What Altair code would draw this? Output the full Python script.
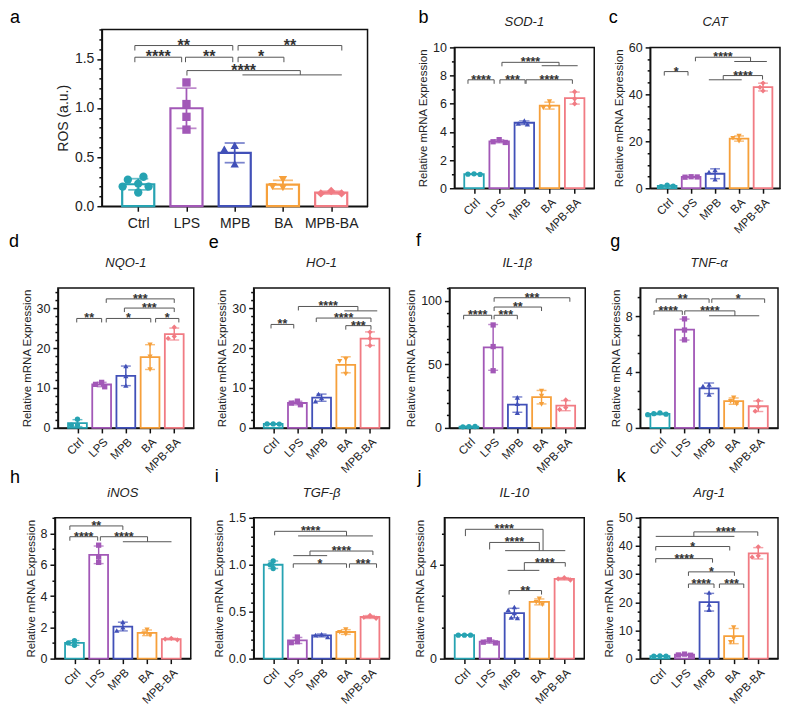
import json
import altair as alt
import pandas as pd

FONT = "Liberation Sans"
GROUPS = ["Ctrl", "LPS", "MPB", "BA", "MPB-BA"]
COLORS = ["#26A3B2", "#A258B7", "#4150B8", "#F6A03B", "#F17B83"]
SHAPES = ["circle", "square", "triangle-up", "triangle-down", "diamond"]

# ---------------- replicate values ----------------
ros_vals = [[0.23, 0.27, 0.30, 0.20, 0.20, 0.14], [1.26, 1.04, 0.91, 0.78],
            [0.62, 0.58, 0.43], [0.27, 0.19, 0.20], [0.155, 0.13, 0.13]]
sod_vals = [[1.02, 1.0, 0.98], [3.45, 3.3, 3.25], [4.8, 4.6, 4.55],
            [5.75, 6.15, 5.7], [6.85, 6.35, 6.0]]
cat_vals = [[1.3, 0.7, 0.9], [4.9, 4.7, 4.8], [7.8, 6.9, 3.8],
            [22.2, 21.3, 20.0], [44.8, 43.0, 41.5]]
nqo_vals = [[2.2, 0.7, 0.7], [11.4, 10.9, 10.3], [15.5, 13.0, 10.6],
            [20.8, 17.8, 14.6], [25.2, 22.9, 22.4]]
ho_vals = [[1.0, 1.0, 0.95], [6.7, 6.2, 5.8], [7.5, 8.5, 6.7],
           [17.2, 16.7, 13.5], [24.0, 22.4, 20.6]]
il1_vals = [[1.0, 0.9, 1.1], [81, 64, 45], [24, 19, 12],
            [29, 25, 18.5], [22, 16, 14.5]]
tnf_vals = [[1.08, 1.02, 0.98, 0.95], [7.8, 7.0, 6.3], [3.1, 3.0, 2.4],
            [2.15, 1.9, 1.7], [1.95, 1.5, 1.2]]
inos_vals = [[1.15, 1.0, 0.85], [7.25, 6.5, 6.15], [2.35, 2.0, 1.8],
             [1.85, 1.6, 1.5], [1.3, 1.25, 1.2]]
tgf_vals = [[1.04, 1.0, 0.96], [0.23, 0.18, 0.17], [0.26, 0.25, 0.23],
            [0.31, 0.28, 0.26], [0.46, 0.44, 0.43]]
il10_vals = [[1.0, 1.0, 1.0], [0.8, 0.7, 0.67], [2.2, 2.08, 1.94, 1.75, 1.73],
             [2.55, 2.4, 2.3], [3.45, 3.4, 3.35]]
arg_vals = [[1.0, 0.9, 0.85], [1.6, 1.3, 1.2], [23.5, 19.2, 17.4],
            [11.0, 7.2, 5.8], [39.7, 36.5, 36.0]]

# ---------------- significance brackets ----------------
# (from group idx, to group idx, height, label[, left end, right end])
ros_br = [(-0.07, 1.96, 1.636, "**"), (-0.07, 0.90, 1.517, "****"), (0.98, 1.96, 1.517, "**"),
          (2.07, 4.22, 1.636, "**"), (2.07, 3.02, 1.517, "*"), (1.01, 3.36, 1.381, "****", None, 1.337)]
ros_grp = [(2.16, 4.22, 1.337)]
sod_br = [(-0.24, 0.80, 7.7, "****"), (1.03, 2.03, 7.7, "***"), (2.07, 3.91, 7.7, "****"),
          (1.11, 3.38, 8.94, "****", None, 8.70)]
sod_grp = [(2.69, 4.12, 8.70)]
cat_br = [(-0.12, 0.87, 49.7, "*"), (1.18, 3.48, 55.8, "****", None, 54.0),
          (2.34, 3.98, 48.0, "****", 46.2, None)]
cat_grp = [(2.80, 4.16, 54.0), (1.74, 3.11, 46.2)]
nqo_br = [(-0.03, 1.0, 27.4, "**"), (1.19, 3.03, 27.4, "*"), (3.23, 4.19, 27.4, "*"),
          (1.94, 4.0, 30.0, "***"), (1.19, 4.0, 32.3, "***")]
nqo_grp = []
ho_br = [(-0.09, 0.85, 25.9, "**"), (1.04, 3.5, 30.4, "****", None, 29.3),
         (1.78, 4.04, 27.5, "****"), (3.0, 4.04, 25.6, "***")]
ho_grp = [(2.94, 4.3, 29.3)]
il1_br = [(-0.22, 0.94, 88.6, "****"), (1.04, 2.0, 88.6, "***"), (1.04, 3.0, 95.1, "**"),
          (1.04, 4.17, 102.4, "***")]
il1_grp = []
tnf_br = [(-0.15, 2.0, 9.23, "**"), (2.11, 4.26, 9.23, "*"), (-0.24, 0.91, 8.37, "****"),
          (1.01, 3.05, 8.37, "****", None, 8.02)]
tnf_grp = [(2.0, 4.04, 8.02)]
inos_br = [(-0.19, 2.0, 8.48, "**"), (-0.19, 0.96, 7.79, "****"),
           (1.07, 3.02, 7.79, "****", None, 7.47)]
inos_grp = [(2.0, 4.01, 7.47)]
tgf_br = [(0.06, 3.03, 1.356, "****", None, 1.307), (1.52, 4.12, 1.146, "****", 1.097, None),
          (0.83, 3.03, 1.01, "*"), (3.15, 4.27, 1.01, "***")]
tgf_grp = [(1.03, 4.12, 1.307), (0.83, 2.23, 1.097)]
il10_br = [(0.04, 3.15, 5.51, "****", 5.22, 4.6), (1.01, 3.0, 4.95, "****", 4.65, 4.6),
           (2.4, 4.04, 4.09, "****", 3.76, None), (1.79, 3.09, 2.9, "**")]
il10_grp = [(1.63, 4.04, 4.6), (1.73, 3.0, 3.76)]
arg_br = [(1.38, 3.98, 45.0, "****", 43.4, None), (-0.17, 2.84, 39.8, "*"),
          (-0.17, 2.14, 35.5, "****"), (1.16, 3.03, 30.8, "*"),
          (1.16, 2.2, 26.5, "****"), (2.42, 3.41, 26.5, "***")]
arg_grp = [(-0.17, 3.03, 43.4)]

# ---------------- panels: content ----------------
PANELS = [
    dict(k="a", gene=None, yt="ROS (a.u.)", vals=ros_vals, ymax=1.8, major=[0, 0.5, 1.0, 1.5], minor=0.1, fmt=".1f", br=ros_br, grp=ros_grp),
    dict(k="b", gene="SOD-1", yt="Relative mRNA Expression", vals=sod_vals, ymax=10, major=[0, 2, 4, 6, 8, 10], minor=1, fmt="d", br=sod_br, grp=sod_grp),
    dict(k="c", gene="CAT", yt="Relative mRNA Expression", vals=cat_vals, ymax=60, major=[0, 20, 40, 60], minor=5, fmt="d", br=cat_br, grp=cat_grp),
    dict(k="d", gene="NQO-1", yt="Relative mRNA Expression", vals=nqo_vals, ymax=35, major=[0, 10, 20, 30], minor=2, fmt="d", br=nqo_br, grp=nqo_grp),
    dict(k="e", gene="HO-1", yt="Relative mRNA Expression", vals=ho_vals, ymax=35, major=[0, 10, 20, 30], minor=2, fmt="d", br=ho_br, grp=ho_grp),
    dict(k="f", gene="IL-1β", yt="Relative mRNA Expression", vals=il1_vals, ymax=110, major=[0, 50, 100], minor=10, fmt="d", br=il1_br, grp=il1_grp),
    dict(k="g", gene="TNF-α", yt="Relative mRNA Expression", vals=tnf_vals, ymax=10, major=[0, 2, 4, 6, 8, 10], minor=2 / 3, fmt="d", br=tnf_br, grp=tnf_grp),
    dict(k="h", gene="iNOS", yt="Relative mRNA Expression", vals=inos_vals, ymax=9, major=[0, 2, 4, 6, 8], minor=1, fmt="d", br=inos_br, grp=inos_grp),
    dict(k="i", gene="TGF-β", yt="Relative mRNA Expression", vals=tgf_vals, ymax=1.5, major=[0, 0.5, 1.0, 1.5], minor=0.1, fmt=".1f", br=tgf_br, grp=tgf_grp),
    dict(k="j", gene="IL-10", yt="Relative mRNA Expression", vals=il10_vals, ymax=6, major=[0, 2, 4, 6], minor=2 / 3, fmt="d", br=il10_br, grp=il10_grp),
    dict(k="k", gene="Arg-1", yt="Relative mRNA Expression", vals=arg_vals, ymax=50, major=[0, 10, 20, 30, 40, 50], minor=10 / 3, fmt="d", br=arg_br, grp=arg_grp),
]

# ---------------- layout / style ----------------
LAYOUT = {
    "a": dict(left=96, w=266, h=177, off=0.65, letter=(-87, -11)),
    "b": dict(left=449, w=140, h=141, off=0.58, letter=(-31, -29)),
    "c": dict(left=645, w=130, h=141, off=0.5, letter=(-37, -29)),
    "d": dict(left=52, w=136, h=140, off=0.6, letter=(-44, -46)),
    "e": dict(left=248, w=136, h=140, off=0.6, letter=(-40, -45)),
    "f": dict(left=444, w=136, h=140, off=0.6, letter=(-31, -47)),
    "g": dict(left=635, w=138, h=140, off=0.6, letter=(-25, -46)),
    "h": dict(left=49, w=136, h=141, off=0.6, letter=(-40, -40)),
    "i": dict(left=248, w=136, h=141, off=0.6, letter=(-37, -41)),
    "j": dict(left=439, w=140, h=141, off=0.6, letter=(-25, -40)),
    "k": dict(left=635, w=138, h=141, off=0.6, letter=(-19, -41)),
}
ROWS = [["a", "b", "c"], ["d", "e", "f", "g"], ["h", "i", "j", "k"]]
ORIGIN = 48
ROW_GAPS = [-6, -10]
GENE_DY = -25
LINE = "#111111"
TEXT = "#222222"


def swarm(vals, ppu, step, diam):
    placed, offs = [], []
    d, thr = 0.6 * diam, 0.85 * diam
    cands = [0]
    for k in range(1, 6):
        cands += [-k, k]
    for v in vals:
        y = v * ppu
        x = 0
        for k in cands:
            x = k * d
            if all((x - px) ** 2 + (y - py) ** 2 >= thr ** 2 for px, py in placed):
                break
        placed.append((x, y))
        offs.append(x / step)
    return offs


def panel(p):
    L = LAYOUT[p["k"]]
    big = p["k"] == "a"
    W, H, off = L["w"], L["h"], L["off"]
    step = W / (4 + 2 * off)
    ppu = H / p["ymax"]
    diam = 9 if big else 5.5
    rows = []
    for gi, (g, vals) in enumerate(zip(GROUPS, p["vals"])):
        for v, o in zip(vals, swarm(vals, ppu, step, diam)):
            rows.append({"g": g, "gi": gi, "v": v, "xp": gi + o})
    pts = pd.DataFrame(rows)

    xs = alt.Scale(domain=[-off, 4 + off], nice=False, zero=False)
    ys = alt.Scale(domain=[0, p["ymax"]], nice=False)
    cs = alt.Scale(domain=GROUPS, range=COLORS)
    ss = alt.Scale(domain=GROUPS, range=SHAPES)

    n = int(round(p["ymax"] / p["minor"]))
    ticks = sorted(set([round(i * p["minor"], 6) for i in range(n + 1)] + list(p["major"])))
    maj = json.dumps(p["major"])
    yaxis = alt.Axis(
        values=ticks, format=p["fmt"], title=p["yt"],
        labelExpr=f"indexof({maj}, datum.value) >= 0 ? datum.label : ''",
        tickSize={"condition": {"test": f"indexof({maj}, datum.value) >= 0", "value": 5}, "value": 3},
        labelFontSize=14 if big else 12.5, titleFontSize=14 if big else 11.5,
        labelPadding=3, titlePadding=4, labelOverlap=False, labelFlush=False)
    xaxis = alt.Axis(
        values=[0, 1, 2, 3, 4], title=None, tickSize=5,
        labelExpr="['Ctrl','LPS','MPB','BA','MPB-BA'][datum.value]",
        labelAngle=0 if big else -45, labelFontSize=14 if big else 11.5,
        labelPadding=5 if big else 3, labelOverlap=False, labelFlush=False)

    def X(f):
        return alt.X(f, scale=xs, axis=xaxis)

    def Y(f):
        return alt.Y(f, scale=ys, axis=yaxis)

    bar_px = step * (0.64 if big else 0.72)
    cap_px = step * (0.4 if big else 0.38)
    lw = 2.2 if big else 1.8

    bars = alt.Chart(pts).transform_aggregate(m="mean(v)", groupby=["g", "gi"]).mark_bar(
        fill="white", strokeWidth=lw, size=bar_px, orient="vertical").encode(
        x=X("gi:Q"), y=Y("m:Q"), stroke=alt.Stroke("g:N", scale=cs, legend=None))
    err = alt.Chart(pts).transform_aggregate(
        m="mean(v)", s="stdev(v)", groupby=["g", "gi"]).transform_calculate(
        lo="datum.m - datum.s", hi="datum.m + datum.s")
    rule = err.mark_rule(strokeWidth=lw * 0.8).encode(
        x=X("gi:Q"), y=Y("lo:Q"), y2="hi:Q", color=alt.Color("g:N", scale=cs, legend=None))
    caps = err.transform_fold(["lo", "hi"], as_=["kk", "e"]).mark_tick(
        orient="horizontal", size=cap_px, thickness=lw * 0.8).encode(
        x=X("gi:Q"), y=Y("e:Q"), color=alt.Color("g:N", scale=cs, legend=None))
    points = alt.Chart(pts).mark_point(filled=True, opacity=1, size=70 if big else 28).encode(
        x=X("xp:Q"), y=Y("v:Q"),
        color=alt.Color("g:N", scale=cs, legend=None),
        shape=alt.Shape("g:N", scale=ss, legend=None))

    drop = (5 if big else 4) / ppu
    hl, vl, tl = [], [], []
    for b in p["br"]:
        x1, x2, y, lab = b[:4]
        yl = b[4] if len(b) > 4 and b[4] is not None else y - drop
        yr = b[5] if len(b) > 5 and b[5] is not None else y - drop
        hl.append({"x1": x1, "x2": x2, "y": y})
        vl.append({"x": x1, "y": y, "y2": yl})
        vl.append({"x": x2, "y": y, "y2": yr})
        tl.append({"x": (x1 + x2) / 2, "y": y, "t": lab})
    for x1, x2, y in p["grp"]:
        hl.append({"x1": x1, "x2": x2, "y": y})
    hlines = alt.Chart(pd.DataFrame(hl)).mark_rule(color="#555555", strokeWidth=1).encode(
        x=X("x1:Q"), x2="x2:Q", y=Y("y:Q"))
    vlines = alt.Chart(pd.DataFrame(vl)).mark_rule(color="#555555", strokeWidth=1).encode(
        x=X("x:Q"), y=Y("y:Q"), y2="y2:Q")
    stars = alt.Chart(pd.DataFrame(tl)).mark_text(
        font=FONT, fontSize=16 if big else 12.5, fontWeight="bold", color="#333333",
        baseline="alphabetic", dy=5 if big else 4).encode(
        x=X("x:Q"), y=Y("y:Q"), text="t:N")
    dx, dy = L["letter"]
    layers = [bars, rule, caps, points, hlines, vlines, stars]
    layers.append(alt.Chart(pd.DataFrame({"t": [p["k"]]})).mark_text(
        font=FONT, fontSize=18, color="black", align="center", baseline="middle").encode(
        x=alt.value(dx), y=alt.value(dy), text="t:N"))
    if p["gene"]:
        layers.append(alt.Chart(pd.DataFrame({"t": [p["gene"]]})).mark_text(
            font=FONT, fontSize=13, fontStyle="italic", color=TEXT, align="center",
            baseline="middle").encode(x=alt.value(W / 2), y=alt.value(GENE_DY), text="t:N"))
    return alt.layer(*layers).properties(width=W, height=H)


def spacer(w):
    return alt.Chart(pd.DataFrame({"v": [0]})).mark_point(opacity=0).encode(
        x=alt.X("v:Q", axis=None), y=alt.Y("v:Q", axis=None)).properties(
        width=max(w, 1), height=1, view=alt.ViewBackground(stroke="transparent"))


charts = {p["k"]: panel(p) for p in PANELS}
row_charts = []
for row in ROWS:
    cur = [spacer(LAYOUT[row[0]]["left"] - ORIGIN)]
    for i, k in enumerate(row):
        cur.append(charts[k])
        if i < len(row) - 1:
            nxt = row[i + 1]
            cur.append(spacer(LAYOUT[nxt]["left"] - LAYOUT[k]["left"] - LAYOUT[k]["w"]))
    row_charts.append(alt.hconcat(*cur, spacing=0, bounds="flush", center=True))

top = alt.vconcat(row_charts[0], row_charts[1], spacing=ROW_GAPS[0])
chart = alt.vconcat(top, row_charts[2], spacing=ROW_GAPS[1]).properties(
    padding={"left": 0, "top": 0, "right": 0, "bottom": 8}
).configure_axis(
    domainColor=LINE, domainWidth=1.5, tickColor=LINE, tickWidth=1.5,
    labelColor=TEXT, titleColor=TEXT, labelFont=FONT, titleFont=FONT,
    titleFontWeight="normal", grid=False
).configure_view(stroke=LINE, strokeWidth=1.5)

chart.save("out.html", embed_options={"renderer": "svg", "actions": False})
